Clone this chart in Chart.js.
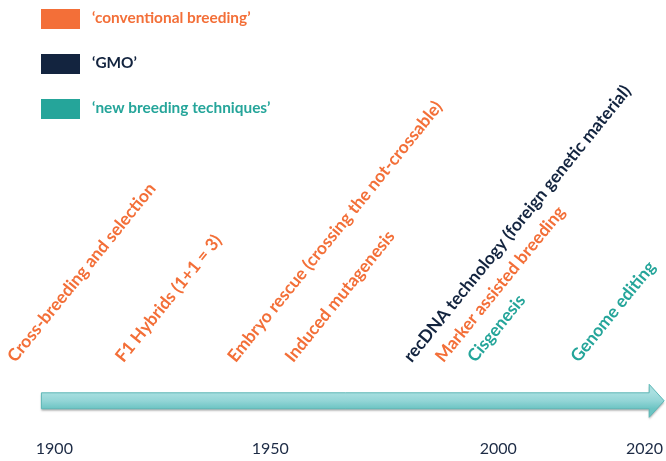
<!DOCTYPE html>
<html>
<head>
<meta charset="utf-8">
<script src="https://cdn.jsdelivr.net/npm/chart.js@4.4.0/dist/chart.umd.min.js"></script>
<style>
  html, body { margin: 0; padding: 0; background: #fff; }
  #wrap { width: 666px; height: 461px; position: relative; }
</style>
</head>
<body>
<div id="wrap"><canvas id="timelineChart"></canvas></div>
<script>
// Timeline data
const groupNames = ['\u2018conventional breeding\u2019', '\u2018GMO\u2019', '\u2018new breeding techniques\u2019'];
const eventNames = [
    'Cross-breeding and selection',
    'F1 Hybrids (1+1 = 3)',
    'Embryo rescue (crossing the not-crossable)',
    'Induced mutagenesis',
    'recDNA technology (foreign genetic material)',
    'Marker assisted breeding',
    'Cisgenesis',
    'Genome editing'
];
const eventYears = [1891, 1916, 1942, 1955, 1981, 1988, 1995, 2011];
const eventGroup = [0, 0, 0, 0, 1, 0, 2, 2];
const tickYears = [1900, 1950, 2000, 2020];
const arrowFrom = 1897;

const groupColors = ['#F36F38', '#13243F', '#25A59A'];
const fontFamily = 'Lato, "Open Sans", sans-serif';

// x scale whose spacing between the labelled years is not uniform (as on the slide)
class TimelineScale extends Chart.LinearScale {
    static id = 'timeline';
    _decimal(v) {
        const s = this.options.stops;
        let i = 1;
        while (i < s.length - 1 && v > s[i][0]) i++;
        const [v0, d0] = s[i - 1];
        const [v1, d1] = s[i];
        return d0 + (v - v0) * (d1 - d0) / (v1 - v0);
    }
    getPixelForValue(v) {
        return v === null ? NaN : this.getPixelForDecimal(this._decimal(v));
    }
}
Chart.register(TimelineScale);

// arrow under the labels
const arrowPlugin = {
    id: 'arrow',
    beforeDatasetsDraw(chart) {
        const {ctx, chartArea, scales: {x}} = chart;
        const x1 = x.getPixelForValue(arrowFrom);
        const x2 = x.getPixelForValue(x.max);
        const y = chartArea.bottom - 35;
        const body = 8, head = 16.5, headLen = 15;
        ctx.save();
        ctx.beginPath();
        ctx.moveTo(x1, y - body);
        ctx.lineTo(x2 - headLen, y - body);
        ctx.lineTo(x2 - headLen, y - head);
        ctx.lineTo(x2, y);
        ctx.lineTo(x2 - headLen, y + head);
        ctx.lineTo(x2 - headLen, y + body);
        ctx.lineTo(x1, y + body);
        ctx.closePath();
        const g = ctx.createLinearGradient(0, y - body, 0, y + body);
        g.addColorStop(0, '#a8dfe0');
        g.addColorStop(0.5, '#93d5d6');
        g.addColorStop(1, '#6cc4c3');
        ctx.shadowColor = 'rgba(0,0,0,0.3)';
        ctx.shadowOffsetY = 2;
        ctx.shadowBlur = 2;
        ctx.fillStyle = g;
        ctx.fill();
        ctx.shadowColor = 'transparent';
        ctx.strokeStyle = '#5db7b6';
        ctx.lineWidth = 1;
        ctx.stroke();
        ctx.restore();
    }
};

// rotated event names at their year
const eventLabelPlugin = {
    id: 'eventLabels',
    afterDatasetsDraw(chart) {
        const ctx = chart.ctx;
        chart.data.datasets.forEach((ds, di) => {
            chart.getDatasetMeta(di).data.forEach((pt, i) => {
                ctx.save();
                ctx.translate(pt.x, pt.y);
                ctx.rotate(-51 * Math.PI / 180);
                ctx.fillStyle = ds.backgroundColor;
                ctx.font = 'bold 17.4px ' + fontFamily;
                ctx.textBaseline = 'alphabetic';
                ctx.textAlign = 'left';
                ctx.fillText(ds.data[i].name, 0, 0);
                ctx.restore();
            });
        });
    }
};

// stacked legend in the top left corner
const legendPlugin = {
    id: 'stackLegend',
    afterDraw(chart) {
        const ctx = chart.ctx;
        ctx.save();
        chart.data.datasets.forEach((ds, i) => {
            const top = 9 + i * 45;
            ctx.fillStyle = ds.backgroundColor;
            ctx.fillRect(41, top, 39, 20);
            ctx.font = 'bold 15.4px ' + fontFamily;
            ctx.textBaseline = 'middle';
            ctx.fillText(ds.label, 92, top + 9);
        });
        ctx.restore();
    }
};

const datasets = groupNames.map((name, gi) => ({
    label: name,
    backgroundColor: groupColors[gi],
    borderColor: groupColors[gi],
    pointRadius: 0,
    data: eventYears
        .map((year, i) => ({x: year, y: 0, name: eventNames[i], group: eventGroup[i]}))
        .filter(p => p.group === gi)
}));

new Chart(document.getElementById('timelineChart'), {
    type: 'scatter',
    data: { datasets: datasets },
    options: {
        responsive: true,
        maintainAspectRatio: false,
        animation: false,
        events: [],
        layout: { padding: { left: 0, right: 0, top: 0, bottom: 0 } },
        plugins: {
            legend: { display: false },
            tooltip: { enabled: false }
        },
        scales: {
            x: {
                type: 'timeline',
                min: 1887.4,
                max: 2022.7,
                stops: [[1900, 0.0818], [1950, 0.4069], [2000, 0.75], [2020, 0.97]],
                afterBuildTicks: scale => {
                    scale.ticks = tickYears.map(v => ({ value: v }));
                },
                grid: { display: false, drawTicks: false },
                border: { display: false },
                ticks: {
                    autoSkip: false,
                    maxRotation: 0,
                    padding: 3,
                    color: '#1d2b45',
                    font: { family: fontFamily, size: 16 },
                    callback: v => String(v)
                }
            },
            y: { display: false, min: -0.2, max: 1 }
        }
    },
    plugins: [arrowPlugin, eventLabelPlugin, legendPlugin]
});
</script>
</body>
</html>
